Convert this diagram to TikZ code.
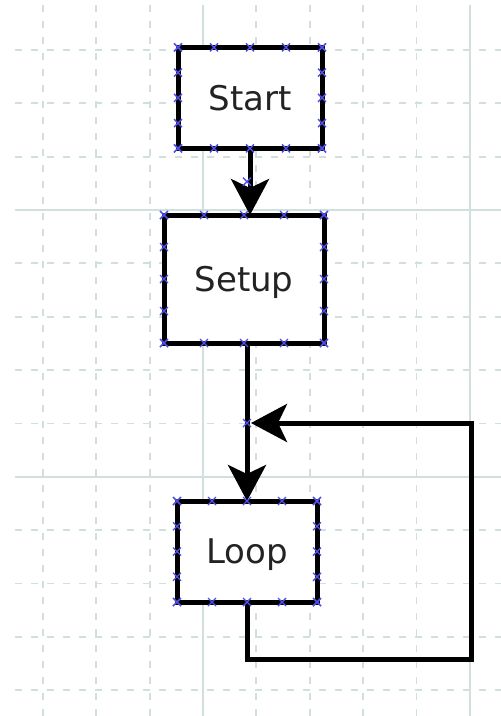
\documentclass[tikz,border=0pt]{standalone}
\usepackage{fontspec}
\setmainfont{DejaVu Sans}
\usetikzlibrary{arrows.meta,calc}
\definecolor{gridc}{RGB}{210,223,223}
\definecolor{markc}{RGB}{80,80,235}
\definecolor{textc}{RGB}{35,35,35}
\tikzset{
  box/.style={draw=black, fill=white, line width=5pt, rectangle, inner sep=0pt, outer sep=0pt,
    font=\fontsize{34}{40}\selectfont, text=textc, text depth=0pt},
  conn/.style={line width=5pt, -{Stealth[length=36pt,width=38pt,inset=9pt]}},
  majorgrid/.style={draw=gridc, line width=1.8pt},
  minorgrid/.style={draw=gridc, line width=1.8pt, dash pattern=on 7pt off 9pt},
  mk/.style={draw=markc, line width=1.4pt},
  junction/.style={circle, minimum size=8pt, inner sep=0pt, outer sep=0pt}
}
\begin{document}
\begin{tikzpicture}[x=1pt,y=-1pt]
\useasboundingbox (0,0) rectangle (501,716);
% grid
\foreach \k in {-3,-2,-1,1,2,3,4,6,7,8,9}{
  \pgfmathsetmacro\yy{210+53.35*\k}
  \draw[minorgrid] (15,\yy) -- (501,\yy);
}
\foreach \k in {0,5}{
  \pgfmathsetmacro\yy{210+53.35*\k}
  \draw[majorgrid] (15,\yy) -- (501,\yy);
}
\foreach \k in {-3,-2,-1,1,2,3,4}{
  \pgfmathsetmacro\xx{203+53.35*\k}
  \draw[minorgrid] (\xx,5) -- (\xx,716);
}
\foreach \k in {0,5}{
  \pgfmathsetmacro\xx{203+53.35*\k}
  \draw[majorgrid] (\xx,5) -- (\xx,716);
}
% nodes
\node[box, minimum width=144pt, minimum height=101pt] (start) at (250,97.8) {Start};
\node[box, minimum width=160pt, minimum height=128pt] (setup) at (244,279) {Setup};
\node[box, minimum width=140pt, minimum height=101pt] (loop) at (247,551.5) {Loop};
\node[junction] (mid) at (247,423) {};
\coordinate (corner) at (471,659);
% connectors
\draw[conn] (start.south) -- (start.south |- setup.north);
\draw[conn] (loop.north |- setup.south) -- (loop.north);
\draw[conn] (loop.south) |- (corner) |- (mid.east);
% markers
\foreach \n in {start,setup,loop}{
  \foreach \f in {0,0.25,0.5,0.75,1}{
    \draw[mk] ($(\n.north west)!\f!(\n.north east)$) +(-4,-4) -- +(4,4) +(-4,4) -- +(4,-4);
    \draw[mk] ($(\n.south west)!\f!(\n.south east)$) +(-4,-4) -- +(4,4) +(-4,4) -- +(4,-4);
    \draw[mk] ($(\n.north west)!\f!(\n.south west)$) +(-4,-4) -- +(4,4) +(-4,4) -- +(4,-4);
    \draw[mk] ($(\n.north east)!\f!(\n.south east)$) +(-4,-4) -- +(4,4) +(-4,4) -- +(4,-4);
  }
}
\draw[mk] (mid.center) +(-4,-4) -- +(4,4) +(-4,4) -- +(4,-4);
\draw[mk] ($(start.south)!0.5!(setup.north)$) +(-4,-4) -- +(4,4) +(-4,4) -- +(4,-4);
\end{tikzpicture}
\end{document}
